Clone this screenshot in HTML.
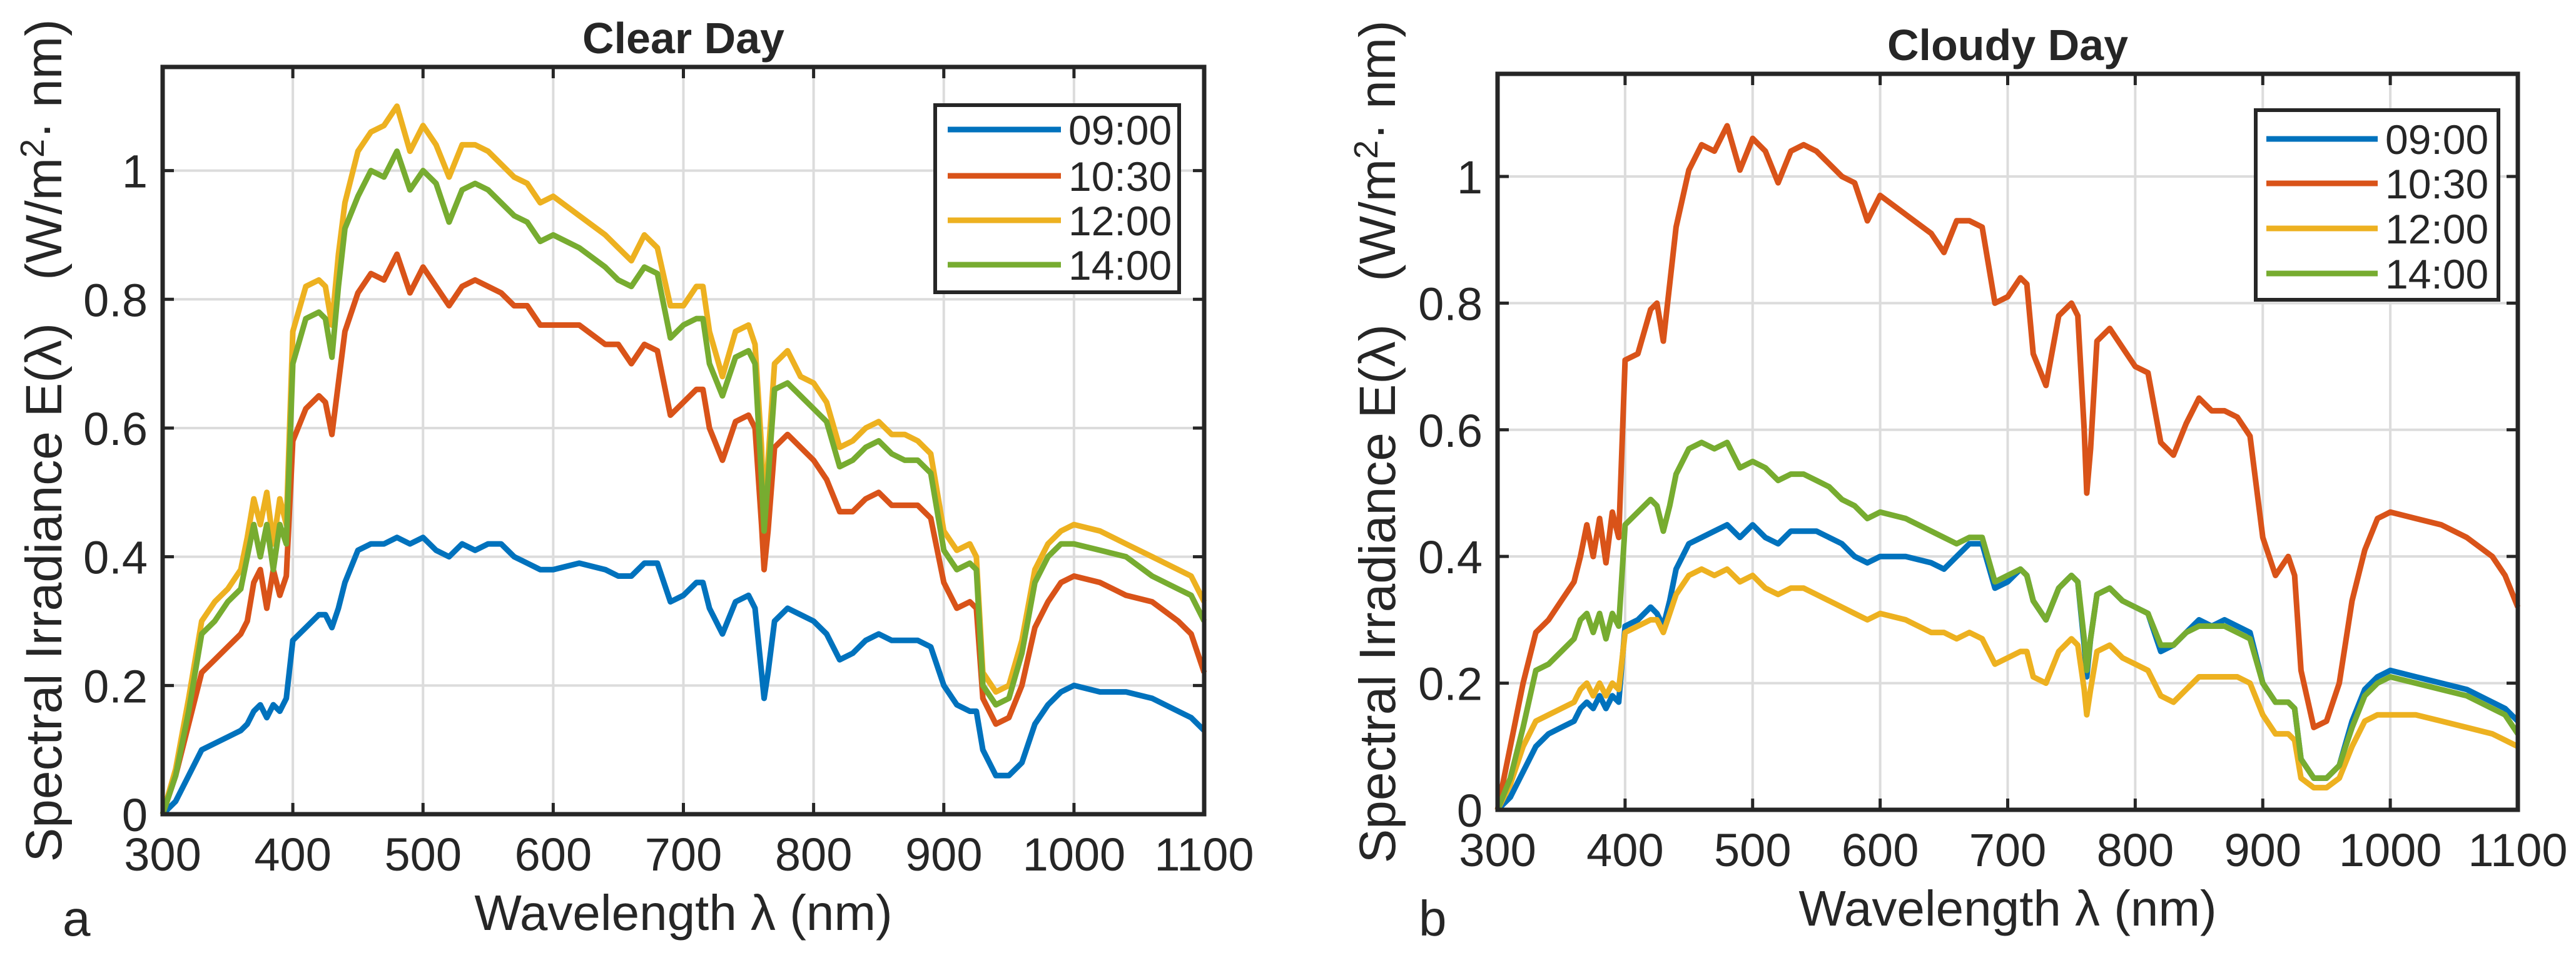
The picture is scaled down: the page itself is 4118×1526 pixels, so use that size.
<!DOCTYPE html>
<html><head><meta charset="utf-8"><style>
html,body{margin:0;padding:0;background:#fff;}
svg{display:block;}
text{font-family:"Liberation Sans",Arial,sans-serif;fill:#262626;}
</style></head><body>
<svg id="fig" width="4118" height="1526" viewBox="0 0 4118 1526" xmlns="http://www.w3.org/2000/svg">
<rect width="4118" height="1526" fill="#fff"/>
</svg>
<script>
const wavelengths=[300,310,320,330,340,350,360,365,370,375,380,385,390,395,400,410,420,425,430,435,440,450,460,470,480,490,500,510,520,530,540,550,560,570,580,590,600,620,640,650,660,670,680,690,700,710,715,720,730,740,750,755,760,762,765,770,780,790,800,810,820,830,840,850,860,870,880,890,900,910,920,925,930,940,950,960,970,980,990,1000,1020,1040,1060,1080,1090,1100];
const seriesLabels=["09:00","10:30","12:00","14:00"];
const xTicks=[300,400,500,600,700,800,900,1000,1100];
const yTicks=[0,0.2,0.4,0.6,0.8,1];
const yTickLabels=["0","0.2","0.4","0.6","0.8","1"];
const clear0900=[0,0.02,0.06,0.1,0.11,0.12,0.13,0.14,0.16,0.17,0.15,0.17,0.16,0.18,0.27,0.29,0.31,0.31,0.29,0.32,0.36,0.41,0.42,0.42,0.43,0.42,0.43,0.41,0.40,0.42,0.41,0.42,0.42,0.40,0.39,0.38,0.38,0.39,0.38,0.37,0.37,0.39,0.39,0.33,0.34,0.36,0.36,0.32,0.28,0.33,0.34,0.32,0.22,0.18,0.22,0.30,0.32,0.31,0.30,0.28,0.24,0.25,0.27,0.28,0.27,0.27,0.27,0.26,0.20,0.17,0.16,0.16,0.10,0.06,0.06,0.08,0.14,0.17,0.19,0.20,0.19,0.19,0.18,0.16,0.15,0.13];
const clear1030=[0,0.06,0.14,0.22,0.24,0.26,0.28,0.30,0.36,0.38,0.32,0.38,0.34,0.37,0.58,0.63,0.65,0.64,0.59,0.67,0.75,0.81,0.84,0.83,0.87,0.81,0.85,0.82,0.79,0.82,0.83,0.82,0.81,0.79,0.79,0.76,0.76,0.76,0.73,0.73,0.70,0.73,0.72,0.62,0.64,0.66,0.66,0.60,0.55,0.61,0.62,0.60,0.45,0.38,0.44,0.57,0.59,0.57,0.55,0.52,0.47,0.47,0.49,0.50,0.48,0.48,0.48,0.46,0.36,0.32,0.33,0.32,0.18,0.14,0.15,0.20,0.29,0.33,0.36,0.37,0.36,0.34,0.33,0.30,0.28,0.22];
const clear1200=[0,0.07,0.18,0.30,0.33,0.35,0.38,0.43,0.49,0.45,0.50,0.42,0.49,0.45,0.75,0.82,0.83,0.82,0.76,0.87,0.95,1.03,1.06,1.07,1.10,1.03,1.07,1.04,0.99,1.04,1.04,1.03,1.01,0.99,0.98,0.95,0.96,0.93,0.90,0.88,0.86,0.90,0.88,0.79,0.79,0.82,0.82,0.75,0.68,0.75,0.76,0.73,0.57,0.45,0.55,0.70,0.72,0.68,0.67,0.64,0.57,0.58,0.60,0.61,0.59,0.59,0.58,0.56,0.44,0.41,0.42,0.40,0.22,0.19,0.20,0.27,0.38,0.42,0.44,0.45,0.44,0.42,0.40,0.38,0.37,0.33];
const clear1400=[0,0.06,0.16,0.28,0.30,0.33,0.35,0.40,0.45,0.40,0.45,0.38,0.45,0.42,0.70,0.77,0.78,0.77,0.71,0.82,0.91,0.96,1.00,0.99,1.03,0.97,1.00,0.98,0.92,0.97,0.98,0.97,0.95,0.93,0.92,0.89,0.90,0.88,0.85,0.83,0.82,0.85,0.84,0.74,0.76,0.77,0.77,0.70,0.65,0.71,0.72,0.70,0.52,0.44,0.52,0.66,0.67,0.65,0.63,0.61,0.54,0.55,0.57,0.58,0.56,0.55,0.55,0.53,0.41,0.38,0.39,0.38,0.20,0.17,0.18,0.25,0.36,0.40,0.42,0.42,0.41,0.40,0.37,0.35,0.34,0.30];
const cloudy0900=[0,0.02,0.06,0.1,0.12,0.13,0.14,0.16,0.17,0.16,0.18,0.16,0.18,0.17,0.29,0.30,0.32,0.31,0.29,0.33,0.38,0.42,0.43,0.44,0.45,0.43,0.45,0.43,0.42,0.44,0.44,0.44,0.43,0.42,0.40,0.39,0.40,0.40,0.39,0.38,0.40,0.42,0.42,0.35,0.36,0.38,0.37,0.33,0.30,0.35,0.37,0.36,0.26,0.21,0.27,0.34,0.35,0.33,0.32,0.31,0.25,0.26,0.28,0.30,0.29,0.30,0.29,0.28,0.20,0.17,0.17,0.16,0.08,0.05,0.05,0.07,0.14,0.19,0.21,0.22,0.21,0.20,0.19,0.17,0.16,0.14];
const cloudy1030=[0,0.1,0.2,0.28,0.30,0.33,0.36,0.40,0.45,0.40,0.46,0.39,0.47,0.43,0.71,0.72,0.79,0.80,0.74,0.83,0.92,1.01,1.05,1.04,1.08,1.01,1.06,1.04,0.99,1.04,1.05,1.04,1.02,1.00,0.99,0.93,0.97,0.94,0.91,0.88,0.93,0.93,0.92,0.80,0.81,0.84,0.83,0.72,0.67,0.78,0.80,0.78,0.60,0.50,0.57,0.74,0.76,0.73,0.70,0.69,0.58,0.56,0.61,0.65,0.63,0.63,0.62,0.59,0.43,0.37,0.40,0.37,0.22,0.13,0.14,0.20,0.33,0.41,0.46,0.47,0.46,0.45,0.43,0.40,0.37,0.32];
const cloudy1200=[0,0.04,0.1,0.14,0.15,0.16,0.17,0.19,0.20,0.18,0.20,0.18,0.20,0.19,0.28,0.29,0.30,0.30,0.28,0.31,0.34,0.37,0.38,0.37,0.38,0.36,0.37,0.35,0.34,0.35,0.35,0.34,0.33,0.32,0.31,0.30,0.31,0.30,0.28,0.28,0.27,0.28,0.27,0.23,0.24,0.25,0.25,0.21,0.20,0.25,0.27,0.26,0.19,0.15,0.19,0.25,0.26,0.24,0.23,0.22,0.18,0.17,0.19,0.21,0.21,0.21,0.21,0.20,0.15,0.12,0.12,0.11,0.05,0.035,0.035,0.05,0.10,0.14,0.15,0.15,0.15,0.14,0.13,0.12,0.11,0.10];
const cloudy1400=[0,0.05,0.13,0.22,0.23,0.25,0.27,0.30,0.31,0.28,0.31,0.27,0.31,0.29,0.45,0.47,0.49,0.48,0.44,0.48,0.53,0.57,0.58,0.57,0.58,0.54,0.55,0.54,0.52,0.53,0.53,0.52,0.51,0.49,0.48,0.46,0.47,0.46,0.44,0.43,0.42,0.43,0.43,0.36,0.37,0.38,0.37,0.33,0.30,0.35,0.37,0.36,0.27,0.22,0.27,0.34,0.35,0.33,0.32,0.31,0.26,0.26,0.28,0.29,0.29,0.29,0.28,0.27,0.20,0.17,0.17,0.16,0.08,0.05,0.05,0.07,0.13,0.18,0.20,0.21,0.20,0.19,0.18,0.16,0.15,0.12];
const colors=["#0072BD","#D95319","#EDB120","#77AC30"];

const NS="http://www.w3.org/2000/svg";
const svg=document.getElementById('fig');
function mk(tag,attrs,parent,txt){const e=document.createElementNS(NS,tag);for(const k in attrs)e.setAttribute(k,attrs[k]);if(txt!==undefined)e.textContent=txt;(parent||svg).appendChild(e);return e;}

function panel(p){
  const g=mk('g',{});
  
  
  const X=v=>p.left+(v-300)/800*(p.right-p.left);
  const Y=v=>p.bottom-v/p.ymax*(p.bottom-p.top);
  xTicks.forEach(t=>{ if(t>300&&t<1100){const l=mk('line',{x1:X(t),x2:X(t),y1:p.top,y2:p.bottom,stroke:'#dcdcdc','stroke-width':4},g);
    
    }});
  yTicks.forEach(t=>{ if(t>0){const l=mk('line',{x1:p.left,x2:p.right,y1:Y(t),y2:Y(t),stroke:'#dcdcdc','stroke-width':4},g);
    
    }});
  p.series.forEach((s,i)=>{
    const d=wavelengths.map((w,j)=>(j?'L':'M')+X(w).toFixed(1)+' '+Y(s[j]).toFixed(1)).join(' ');
    const path=mk('path',{d:d,fill:'none',stroke:colors[i],'stroke-width':9,'stroke-linejoin':'round'},g);
    
    
  });
  const box=mk('rect',{x:p.left,y:p.top,width:p.right-p.left,height:p.bottom-p.top,fill:'none',stroke:'#262626','stroke-width':7},g);
  
  
  xTicks.forEach(t=>{
    mk('line',{x1:X(t),x2:X(t),y1:p.bottom,y2:p.bottom-18,stroke:'#262626','stroke-width':5},g);
    mk('line',{x1:X(t),x2:X(t),y1:p.top,y2:p.top+18,stroke:'#262626','stroke-width':5},g);
    const tl=mk('text',{x:X(t),y:p.bottom+90,'font-size':74,'text-anchor':'middle'},g,String(t));
    
    
  });
  yTicks.forEach((t,i)=>{
    mk('line',{x1:p.left,x2:p.left+18,y1:Y(t),y2:Y(t),stroke:'#262626','stroke-width':5},g);
    mk('line',{x1:p.right,x2:p.right-18,y1:Y(t),y2:Y(t),stroke:'#262626','stroke-width':5},g);
    const tl=mk('text',{x:p.left-24,y:Y(t)+27,'font-size':74,'text-anchor':'end'},g,yTickLabels[i]);
    
    
  });
  const title=mk('text',{x:(p.left+p.right)/2,y:p.top-22,'font-size':70,'font-weight':'bold','text-anchor':'middle',fill:'#000'},g,p.title);
  
  
  const xl=mk('text',{x:(p.left+p.right)/2,y:p.bottom+185,'font-size':80,'text-anchor':'middle'},g,'Wavelength \u03bb (nm)');
  
  
  const yl=mk('text',{x:0,y:0,'font-size':82,'text-anchor':'middle',transform:'translate('+(p.ylabelX)+','+((p.top+p.bottom)/2)+') rotate(-90)'},g);
  
  
  yl.innerHTML='Spectral Irradiance E(\u03bb)&#160;&#160;&#160;(W/m<tspan dy="-28" font-size="54">2</tspan><tspan dy="28">\u00b7 nm)</tspan>';
  const pl=mk('text',{x:p.letterX,y:1495,'font-size':80,'font-family':'Liberation Serif, serif',fill:'#000'},g,p.letter);
  
  
  const lg=mk('g',{},g);
  
  
  mk('rect',{x:p.leg.x,y:p.leg.y,width:p.leg.w,height:p.leg.h,fill:'#fff',stroke:'#262626','stroke-width':6},lg);
  seriesLabels.forEach((lab,i)=>{
    const cy=p.leg.rows[i];
    const e=mk('g',{},lg);
    
    
    mk('line',{x1:p.leg.lx1,x2:p.leg.lx2,y1:cy,y2:cy,stroke:colors[i],'stroke-width':9},e);
    mk('text',{x:p.leg.tx,y:cy+24,'font-size':66},e,lab);
  });
}
panel({name:'clear-day-panel',title:'Clear Day',left:260,right:1925,top:107,bottom:1301,ymax:1.161,
  series:[clear0900,clear1030,clear1200,clear1400],ylabelX:98,letter:'a',letterX:100,
  leg:{x:1495,y:168,w:390,h:299,rows:[207,281,352,423],lx1:1515,lx2:1696,tx:1708}});
panel({name:'cloudy-day-panel',title:'Cloudy Day',left:2394,right:4025,top:118,bottom:1294,ymax:1.162,
  series:[cloudy0900,cloudy1030,cloudy1200,cloudy1400],ylabelX:2230,letter:'b',letterX:2268,
  leg:{x:3606,y:176,w:388,h:303,rows:[222,293,365,437],lx1:3623,lx2:3801,tx:3813}});
</script>
</body></html>
